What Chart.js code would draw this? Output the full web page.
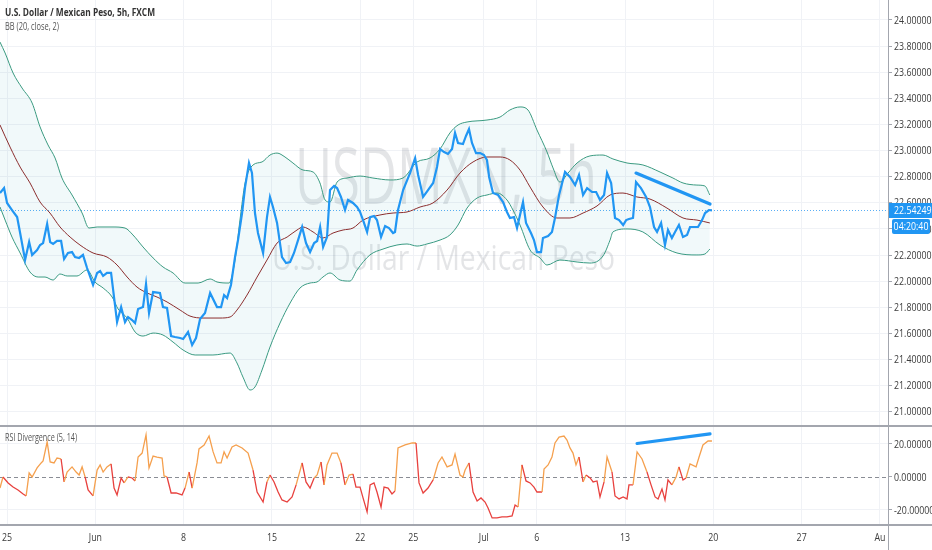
<!DOCTYPE html>
<html>
<head>
<meta charset="utf-8">
<script src="https://cdn.jsdelivr.net/npm/chart.js@4.4.1/dist/chart.umd.min.js"></script>
<style>
html, body { margin: 0; padding: 0; background: #fff; }
#wrap { position: relative; width: 932px; height: 550px; overflow: hidden; }
canvas { position: absolute; left: 0; }
#priceChart { top: 0; }
#rsiChart { top: 425px; }
</style>
</head>
<body>
<div id="wrap">
  <canvas id="priceChart" width="932" height="425"></canvas>
  <canvas id="rsiChart" width="932" height="125"></canvas>
</div>
<script>
// time unit: trading days since Mon May 25 00:00 (weekends skipped, like the chart)
const dateTicks = [0, 5, 10, 15, 20, 23, 27, 30, 35, 40, 45, 49.43];
const dateLabels = ['25', 'Jun', '8', '15', '22', '25', 'Jul', '6', '13', '20', '27', 'Au'];
const priceTicks = [21.0, 21.2, 21.4, 21.6, 21.8, 22.0, 22.2, 22.4, 22.6, 22.8, 23.0, 23.2, 23.4, 23.6, 23.8, 24.0];
const rsiTicks = [-20, 0, 20];

const lastPrice = 22.54249;
const countdown = '04:20:40';

const priceTime = [-0.40,-0.17,0.00,0.28,0.57,0.74,1.02,1.25,1.42,1.70,1.87,2.04,2.27,2.44,2.61,2.83,3.06,3.23,3.45,3.68,
  3.85,4.08,4.30,4.53,4.87,5.10,5.27,5.44,5.66,5.89,6.23,6.46,6.68,6.85,7.08,7.25,7.42,7.70,7.87,8.04,
  8.27,8.66,8.83,9.06,9.29,9.51,9.80,
  9.97,10.25,10.48,10.70,10.93,11.21,11.50,11.89,12.12,12.29,12.46,12.68,12.91,13.08,13.31,13.48,13.70,13.87,14.04,14.21,
  14.50,14.72,14.89,15.06,15.29,15.57,15.80,16.03,16.25,16.48,16.71,16.93,17.16,17.39,17.56,17.73,17.90,18.12,18.29,18.52,
  18.69,18.91,
  19.14,19.31,19.59,19.82,19.99,20.16,20.39,20.56,20.78,20.95,21.18,21.41,21.63,21.86,21.97,22.14,22.43,22.82,23.11,23.28,
  23.56,23.84,24.13,24.35,24.52,24.75,24.97,25.20,25.37,25.54,25.82,25.99,26.16,26.33,26.56,26.79,27.01,27.18,27.30,27.52,
  27.81,28.09,28.31,28.48,28.71,28.88,29.22,29.39,29.67,29.84,30.01,30.24,30.35,30.64,30.86,31.03,31.26,31.60,31.88,32.17,
  32.39,32.62,32.85,33.13,33.36,33.58,33.81,33.98,34.21,34.43,34.66,34.89,35.06,35.22,35.45,35.62,35.90,36.19,36.41,36.64,
  36.81,37.04,37.26,37.43,37.65,37.83,38.05,38.28,38.51,38.68,38.90,39.13,39.36,39.53,39.75,39.92];
const priceClose = [22.675,22.713,22.599,22.545,22.491,22.369,22.162,22.300,22.201,22.239,22.277,22.292,22.438,22.300,22.285,22.308,22.308,22.170,22.216,22.223,
  22.185,22.178,22.201,22.101,21.971,22.063,22.078,22.040,22.063,22.063,21.687,21.802,21.687,21.726,21.703,21.680,21.787,21.802,21.978,21.756,
  21.917,21.910,21.802,21.795,21.580,21.573,21.565,
  21.557,21.611,21.511,21.565,21.710,21.756,21.910,21.802,21.802,21.894,21.871,21.971,22.185,22.315,22.522,22.721,22.905,22.828,22.522,22.369,
  22.216,22.491,22.645,22.568,22.446,22.185,22.139,22.147,22.216,22.315,22.415,22.292,22.223,22.292,22.308,22.415,22.262,22.338,22.698,22.729,
  22.713,22.645,
  22.545,22.622,22.599,22.568,22.530,22.468,22.377,22.491,22.499,22.468,22.338,22.423,22.407,22.369,22.377,22.545,22.698,22.828,22.943,22.813,
  22.645,22.698,22.752,22.874,23.012,22.989,22.974,23.012,23.135,23.058,23.050,23.112,23.165,23.058,22.981,22.981,22.966,22.928,22.798,22.675,
  22.660,22.606,22.530,22.484,22.491,22.407,22.606,22.446,22.369,22.315,22.223,22.223,22.331,22.346,22.377,22.484,22.660,22.836,22.798,22.736,
  22.813,22.660,22.713,22.683,22.683,22.622,22.660,22.828,22.752,22.484,22.468,22.430,22.468,22.476,22.484,22.759,22.713,22.645,22.568,22.415,
  22.377,22.446,22.277,22.392,22.331,22.377,22.430,22.338,22.354,22.415,22.415,22.415,22.468,22.522,22.545,22.54249];

// Bollinger Bands (20, close, 2)
const upperTime = [-0.40,-0.11,0.34,0.85,1.42,1.87,2.32,2.72,3.11,3.68,4.25,4.64,5.10,6.00,6.68,7.13,7.70,8.27,8.83,9.40,
  10.08,10.82,11.50,11.89,12.57,12.91,13.19,13.48,13.93,14.44,14.89,15.29,15.74,16.19,16.76,17.33,17.72,18.01,18.29,18.69,
  19.25,19.99,20.72,21.69,22.42,23.22,23.95,24.52,25.08,25.54,26.05,27.18,27.92,28.48,29.05,29.50,30.01,30.58,30.92,31.31,
  31.77,32.28,33.01,33.75,34.31,35.11,36.01,36.98,37.71,38.28,39.07,39.52,39.80];
const upperBand = [23.831,23.747,23.594,23.479,23.364,23.181,23.043,22.943,22.790,22.660,22.522,22.407,22.415,22.415,22.407,22.354,22.262,22.178,22.109,22.063,
  21.986,21.986,22.017,21.994,21.986,22.162,22.468,22.752,22.890,22.913,22.966,22.981,22.951,22.905,22.851,22.836,22.752,22.622,22.606,22.759,
  22.790,22.805,22.790,22.775,22.790,22.913,22.943,23.012,23.135,23.196,23.219,23.234,23.257,23.311,23.334,23.311,23.158,22.989,22.867,22.759,
  22.828,22.905,22.959,22.966,22.936,22.905,22.890,22.836,22.790,22.752,22.736,22.729,22.660];
const lowerTime = [-0.40,-0.11,0.28,0.74,1.30,1.76,2.15,2.60,3.00,3.40,3.96,4.53,4.98,5.44,5.95,6.29,6.80,7.25,7.70,8.27,
  8.83,9.40,9.97,10.65,11.66,12.63,13.02,13.36,13.76,14.04,14.44,14.89,15.46,16.03,16.59,17.16,17.55,17.89,18.29,18.86,
  19.42,19.82,20.55,21.29,22.08,22.65,23.22,23.78,24.52,25.08,25.54,26.05,26.62,27.18,27.75,28.31,28.65,29.05,29.62,30.18,
  30.58,31.31,32.28,33.01,33.75,34.15,34.31,35.11,36.01,36.98,37.94,39.07,39.52,39.80];
const lowerBand = [22.568,22.468,22.338,22.216,22.070,22.032,22.032,22.009,22.055,22.040,22.040,22.086,21.994,21.948,21.879,21.787,21.718,21.611,21.580,21.603,
  21.588,21.534,21.473,21.435,21.435,21.450,21.374,21.266,21.167,21.190,21.320,21.496,21.680,21.833,21.948,21.986,21.994,22.032,22.063,22.009,
  22.001,22.086,22.201,22.246,22.277,22.285,22.269,22.285,22.315,22.354,22.430,22.560,22.637,22.660,22.675,22.622,22.545,22.430,22.239,22.178,
  22.124,22.162,22.147,22.139,22.193,22.315,22.377,22.400,22.377,22.277,22.216,22.201,22.208,22.246];
const basisTime = [-0.40,0.17,0.74,1.30,1.87,2.43,3.00,3.57,4.13,4.87,5.66,6.23,6.80,7.36,7.93,8.49,9.06,9.80,10.36,11.10,
  12.06,12.63,13.02,13.59,14.16,14.72,15.29,15.86,16.42,16.76,17.33,17.89,18.46,19.03,19.59,20.16,21.12,21.86,22.65,23.39,
  24.12,24.92,25.65,26.39,27.18,27.92,28.48,29.05,29.62,30.35,31.14,31.88,32.62,33.41,34.15,34.88,35.67,36.41,37.37,38.28,
  39.07,39.80];
const basisBand = [23.196,23.027,22.874,22.752,22.606,22.522,22.415,22.338,22.277,22.216,22.185,22.124,22.032,21.955,21.910,21.879,21.841,21.779,21.733,21.718,
  21.718,21.726,21.779,21.894,22.032,22.162,22.292,22.338,22.392,22.415,22.377,22.331,22.369,22.392,22.407,22.468,22.507,22.522,22.530,22.568,
  22.599,22.698,22.828,22.913,22.951,22.951,22.928,22.851,22.721,22.568,22.484,22.484,22.522,22.576,22.660,22.675,22.645,22.629,22.560,22.484,
  22.468,22.446];

// RSI Divergence (5, 14)
const rsiTime = [-0.40,-0.23,0.06,0.34,0.62,0.91,1.08,1.25,1.42,1.70,1.93,2.04,2.27,2.44,2.66,2.83,3.06,3.23,3.40,3.68,
  3.91,4.08,4.25,4.42,4.59,4.87,5.10,5.27,5.44,5.66,5.89,6.06,6.23,6.46,6.63,6.85,7.08,7.25,7.42,7.65,
  7.87,8.04,8.27,8.49,8.78,8.89,9.06,9.29,9.57,9.91,10.08,10.31,10.48,10.76,10.87,11.16,11.44,11.67,11.89,12.12,
  12.29,12.46,12.74,12.97,13.31,13.65,13.93,14.16,14.50,14.72,14.89,15.12,15.35,15.57,15.86,16.14,16.37,16.71,16.93,17.16,
  17.39,17.56,17.78,17.95,18.12,18.40,18.69,18.91,19.14,19.37,19.59,19.76,19.99,20.16,20.39,20.56,20.78,20.95,21.18,21.35,
  21.58,21.80,21.97,22.14,22.54,22.94,23.16,23.33,23.56,23.84,24.13,24.41,24.63,24.92,25.20,25.37,25.65,25.82,25.94,26.16,
  26.39,26.62,26.84,27.07,27.24,27.47,27.75,28.03,28.31,28.60,28.77,28.94,29.16,29.39,29.62,29.84,30.01,30.30,30.41,30.64,
  30.86,31.03,31.26,31.54,31.71,31.88,32.05,32.22,32.39,32.62,32.79,33.02,33.19,33.41,33.58,33.81,33.98,34.26,34.43,34.66,
  34.89,35.11,35.22,35.45,35.68,35.96,36.24,36.47,36.70,36.87,37.09,37.26,37.43,37.65,37.89,38.05,38.28,38.45,38.68,39.02,
  39.19,39.41,39.70,39.92];
const rsiValue = [-6.7,0.0,-3.6,-6.1,-7.9,-10.3,-11.5,2.4,0.0,5.5,8.5,9.7,21.2,9.1,8.5,11.5,10.9,-3.0,3.0,6.1,
  3.0,1.2,6.1,0.0,-7.9,-11.5,4.2,7.3,3.0,6.1,7.9,-6.7,-10.9,-0.6,-3.6,0.0,-0.6,-2.4,12.1,14.5,
  25.5,5.5,12.7,12.1,11.5,0.6,0.0,-9.7,-9.7,-10.9,-6.7,3.0,-6.7,8.5,17.0,19.4,24.8,15.2,8.5,8.5,
  15.2,11.5,18.2,19.4,17.6,14.5,4.2,-9.1,-15.2,-3.0,1.2,-3.0,-9.1,-13.9,-15.2,-12.1,-4.8,8.5,-3.0,-6.7,
  -0.6,1.2,9.1,-4.8,7.3,14.5,14.5,8.5,-4.8,1.2,1.8,-6.1,-6.1,-12.7,-21.2,-4.8,-3.6,-9.1,-18.2,-6.1,
  -6.7,-10.3,-8.5,17.6,19.4,20.6,20.6,-3.6,-9.7,-6.7,-1.8,8.5,12.1,6.1,7.3,13.9,1.2,0.0,4.2,8.5,
  -9.1,-14.5,-12.7,-15.2,-18.8,-24.8,-24.8,-24.2,-24.2,-23.6,-17.0,-18.2,7.3,-2.4,-3.6,-6.1,-9.1,-9.1,4.8,7.3,
  12.1,20.6,24.2,24.8,22.4,17.6,14.5,7.3,12.1,-3.0,1.2,-0.6,-3.0,-2.4,-12.1,-3.0,12.1,3.0,-11.5,-13.3,
  -12.1,-13.3,-4.8,-4.8,15.2,10.9,3.0,-4.8,-12.1,-13.3,-7.3,-13.9,-1.8,-4.8,0.0,6.1,-1.8,-0.6,7.9,6.1,
  12.1,19.4,21.8,21.8];

// hand-drawn divergence lines
const priceTrendTime = [35.62, 39.81];
const priceTrendValue = [22.828, 22.591];
const rsiTrendTime = [35.68, 39.81];
const rsiTrendValue = [20.3, 26.1];

const xMin = -0.40, xMax = 49.89;
const priceMin = 20.899, priceMax = 24.153;
const rsiMin = -29.1, rsiMax = 31.5;

const FONT = "'Open Sans', Roboto, sans-serif";
const SQ = 0.8; // horizontal squeeze for axis text (the chart uses a narrow face)
Chart.defaults.font.family = FONT;
Chart.defaults.font.size = 11;
Chart.defaults.color = '#3b3b3b';

const BLUE = '#2196f3';
const BAND = '#3a9a80';
const GRID = '#f0f2f6';
const AXIS = '#a3a6ae';
const LABEL = '#3b3b3b';

const zip = (xs, ys) => xs.map((x, i) => ({x: x, y: ys[i]}));

function fitText(ctx, text, x, y, w, font, color) {
  ctx.save();
  ctx.font = font;
  ctx.fillStyle = color;
  ctx.textAlign = 'left';
  ctx.textBaseline = 'alphabetic';
  const m = ctx.measureText(text).width;
  ctx.translate(x, y);
  ctx.scale(w / m, 1);
  ctx.fillText(text, 0, 0);
  ctx.restore();
}

function squeezeText(ctx, text, x, y, align) {
  ctx.save();
  ctx.translate(x, y);
  ctx.scale(SQ, 1);
  ctx.textAlign = align;
  ctx.fillText(text, 0, 0);
  ctx.restore();
}

function drawYLabels(chart, values) {
  const ctx = chart.ctx, s = chart.scales.y, a = chart.chartArea;
  ctx.save();
  ctx.font = '11px ' + FONT;
  ctx.fillStyle = LABEL;
  ctx.textBaseline = 'middle';
  values.forEach(v => {
    squeezeText(ctx, v.toFixed(5), a.right + 6, s.getPixelForValue(v) + 0.5, 'left');
  });
  ctx.restore();
}

const priceOverlay = {
  id: 'priceOverlay',
  beforeDatasetsDraw(chart) {
    const ctx = chart.ctx, a = chart.chartArea;
    ctx.save();
    ctx.beginPath();
    ctx.rect(a.left, a.top, a.width, a.height);
    ctx.clip();
    fitText(ctx, 'USDMXN, 5h', 295, 204, 302, "78px 'Open Sans'", 'rgba(120,123,134,0.2)');
    fitText(ctx, 'U.S. Dollar / Mexican Peso', 272, 270, 343, "34px 'Open Sans'", 'rgba(120,123,134,0.2)');
    const y = Math.round(chart.scales.y.getPixelForValue(lastPrice)) + 0.5;
    ctx.strokeStyle = '#5aaef5';
    ctx.lineWidth = 1;
    ctx.setLineDash([1, 2]);
    ctx.beginPath();
    ctx.moveTo(a.left, y);
    ctx.lineTo(a.right, y);
    ctx.stroke();
    ctx.restore();
  },
  afterDraw(chart) {
    const ctx = chart.ctx, a = chart.chartArea;
    drawYLabels(chart, priceTicks);
    const y = Math.round(chart.scales.y.getPixelForValue(lastPrice));
    ctx.save();
    ctx.fillStyle = BLUE;
    ctx.fillRect(a.right + 1, y - 7, 44, 15);
    ctx.beginPath();
    ctx.roundRect(a.right + 4, y + 9, 38, 15, 2);
    ctx.fill();
    ctx.fillStyle = '#ffffff';
    ctx.font = '11px ' + FONT;
    ctx.textBaseline = 'middle';
    squeezeText(ctx, lastPrice.toFixed(5), a.right + 6, y + 1, 'left');
    squeezeText(ctx, countdown, a.right + 23, y + 17, 'center');
    fitText(ctx, 'U.S. Dollar / Mexican Peso, 5h, FXCM', 5, 16, 150, "bold 11px 'Open Sans'", '#333333');
    fitText(ctx, 'BB (20, close, 2)', 5, 30, 54, "11px 'Open Sans'", '#555555');
    ctx.restore();
  }
};

const rsiOverlay = {
  id: 'rsiOverlay',
  beforeDatasetsDraw(chart) {
    const ctx = chart.ctx, a = chart.chartArea;
    const y = Math.round(chart.scales.y.getPixelForValue(0)) + 0.5;
    ctx.save();
    ctx.strokeStyle = '#8a8d95';
    ctx.lineWidth = 1;
    ctx.setLineDash([4, 3]);
    ctx.beginPath();
    ctx.moveTo(a.left, y);
    ctx.lineTo(a.right, y);
    ctx.stroke();
    ctx.restore();
  },
  afterDraw(chart) {
    const ctx = chart.ctx, a = chart.chartArea, sx = chart.scales.x;
    drawYLabels(chart, rsiTicks);
    ctx.save();
    ctx.font = '11px ' + FONT;
    ctx.fillStyle = LABEL;
    ctx.textBaseline = 'middle';
    dateTicks.forEach((v, i) => {
      squeezeText(ctx, dateLabels[i], sx.getPixelForValue(v), a.bottom + 13, 'center');
    });
    ctx.strokeStyle = AXIS;
    ctx.lineWidth = 2;
    ctx.beginPath();
    ctx.moveTo(0, 1);
    ctx.lineTo(chart.width, 1);
    ctx.moveTo(0, a.bottom);
    ctx.lineTo(chart.width, a.bottom);
    ctx.stroke();
    ctx.lineWidth = 1;
    ctx.beginPath();
    ctx.moveTo(a.right + 0.5, 0);
    ctx.lineTo(a.right + 0.5, chart.height);
    ctx.stroke();
    fitText(ctx, 'RSI Divergence (5, 14)', 5, 16, 72, "11px 'Open Sans'", '#555555');
    ctx.restore();
  }
};

new Chart(document.getElementById('priceChart'), {
  type: 'line',
  data: {
    datasets: [
      {label: 'Close', data: zip(priceTime, priceClose), borderColor: BLUE, borderWidth: 2.2, order: 0},
      {label: 'Trend', data: zip(priceTrendTime, priceTrendValue), borderColor: BLUE, borderWidth: 3.2, borderCapStyle: 'round', order: 0},
      {label: 'Basis', data: zip(basisTime, basisBand), borderColor: '#8b2d2d', borderWidth: 1, cubicInterpolationMode: 'monotone', order: 1},
      {label: 'Upper', data: zip(upperTime, upperBand), borderColor: BAND, borderWidth: 1, cubicInterpolationMode: 'monotone',
        fill: '+1', backgroundColor: 'rgba(40,160,175,0.065)', order: 2},
      {label: 'Lower', data: zip(lowerTime, lowerBand), borderColor: BAND, borderWidth: 1, cubicInterpolationMode: 'monotone', order: 2}
    ]
  },
  options: {
    responsive: false,
    animation: false,
    events: [],
    layout: {padding: 0},
    elements: {point: {radius: 0}, line: {tension: 0}},
    plugins: {legend: {display: false}, tooltip: {enabled: false}},
    scales: {
      x: {
        type: 'linear', min: xMin, max: xMax,
        afterBuildTicks: s => { s.ticks = dateTicks.map(v => ({value: v})); },
        afterFit: s => { s.height = 0; },
        ticks: {display: false},
        grid: {color: GRID, drawTicks: false},
        border: {display: false}
      },
      y: {
        type: 'linear', position: 'right', min: priceMin, max: priceMax,
        afterBuildTicks: s => { s.ticks = priceTicks.map(v => ({value: v})); },
        afterFit: s => { s.width = 44; },
        ticks: {display: false},
        grid: {color: GRID, tickColor: AXIS, tickLength: 4},
        border: {color: AXIS}
      }
    }
  },
  plugins: [priceOverlay]
});

new Chart(document.getElementById('rsiChart'), {
  type: 'line',
  data: {
    datasets: [
      {label: 'Trend', data: zip(rsiTrendTime, rsiTrendValue), borderColor: BLUE, borderWidth: 3.2, borderCapStyle: 'round', order: 0},
      {label: 'RSI', data: zip(rsiTime, rsiValue), borderWidth: 1.3, borderColor: '#f5a04e', order: 1,
        segment: {borderColor: c => c.p1.parsed.y >= 0 ? '#f5a04e' : '#e8413e'}}
    ]
  },
  options: {
    responsive: false,
    animation: false,
    events: [],
    layout: {padding: 0},
    elements: {point: {radius: 0}, line: {tension: 0}},
    plugins: {legend: {display: false}, tooltip: {enabled: false}},
    scales: {
      x: {
        type: 'linear', min: xMin, max: xMax,
        afterBuildTicks: s => { s.ticks = dateTicks.map(v => ({value: v})); },
        afterFit: s => { s.height = 25; },
        ticks: {display: false},
        grid: {color: GRID, drawTicks: false},
        border: {display: false}
      },
      y: {
        type: 'linear', position: 'right', min: rsiMin, max: rsiMax,
        afterBuildTicks: s => { s.ticks = rsiTicks.map(v => ({value: v})); },
        afterFit: s => { s.width = 44; },
        ticks: {display: false},
        grid: {color: c => (c.tick && c.tick.value === 0) ? 'rgba(0,0,0,0)' : GRID, tickColor: AXIS, tickLength: 4},
        border: {display: false}
      }
    }
  },
  plugins: [rsiOverlay]
});
</script>
</body>
</html>
